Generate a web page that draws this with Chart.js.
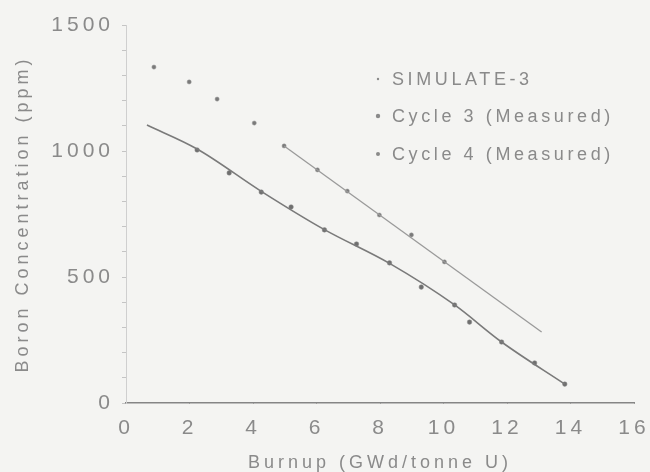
<!DOCTYPE html>
<html>
<head>
<meta charset="utf-8">
<script src="https://cdn.jsdelivr.net/npm/chart.js@4/dist/chart.umd.min.js"></script>
<style>
  html, body { margin: 0; padding: 0; background: #f4f4f2; }
  #wrap { width: 650px; height: 472px; }
</style>
</head>
<body>
<div id="wrap"><canvas id="c" width="650" height="472"></canvas></div>
<script>
// ---- data ----
const xTicks = [0, 2, 4, 6, 8, 10, 12, 14, 16];
const yTicks = [0, 500, 1000, 1500];
const legendLabels = ['SIMULATE-3', 'Cycle 3 (Measured)', 'Cycle 4 (Measured)'];

const simBurnupC3 = [0.66, 2.24, 4.26, 6.25, 8.3, 10.35, 11.83, 13.82];
const simBoronC3  = [1103, 1008, 840, 688, 554, 389, 242, 75];
const simBurnupC4 = [4.98, 13.09];
const simBoronC4  = [1020, 282];

const burnupC3 = [2.24, 3.25, 4.26, 5.2, 6.25, 7.26, 8.3, 9.3, 10.35, 10.82, 11.83, 12.87, 13.82];
const boronC3  = [1004, 913, 837, 778, 687, 631, 556, 460, 389, 321, 242, 159, 75];
const burnupC4 = [0.88, 1.99, 2.87, 4.04, 4.98, 6.03, 6.97, 7.98, 8.99, 10.03];
const boronC4  = [1333, 1274, 1206, 1111, 1020, 925, 841, 746, 667, 560];

const pts = (xs, ys) => xs.map((x, i) => ({ x: x, y: ys[i] }));

const TEXT = '#8a8a8a';
const FONT = "'Liberation Sans', Arial, Helvetica, sans-serif";
const SPACING = '4px';

const spacingPlugin = {
  id: 'spacing',
  beforeUpdate(c) { c.ctx.letterSpacing = SPACING; },
  beforeLayout(c) { c.ctx.letterSpacing = SPACING; },
  beforeDraw(c) {
    const ctx = c.ctx;
    ctx.save();
    ctx.fillStyle = '#f4f4f2';
    ctx.fillRect(0, 0, c.width, c.height);
    ctx.restore();
    ctx.letterSpacing = SPACING;
  }
};

const legendPlugin = {
  id: 'customLegend',
  afterDraw(c) {
    const ctx = c.ctx;
    ctx.save();
    ctx.letterSpacing = '3.6px';
    ctx.font = "18px " + FONT;
    ctx.textBaseline = 'middle';
    ctx.textAlign = 'left';
    const rows = [80, 117, 155];
    const radii = [1.2, 2.2, 2.0];
    legendLabels.forEach((t, i) => {
      ctx.beginPath();
      ctx.fillStyle = '#8a8a8a';
      ctx.arc(378, rows[i] - 1, radii[i], 0, Math.PI * 2);
      ctx.fill();
      ctx.fillStyle = TEXT;
      ctx.fillText(t, 392, rows[i]);
    });
    ctx.restore();
  }
};

new Chart(document.getElementById('c'), {
  type: 'scatter',
  data: {
    datasets: [
      { label: legendLabels[0], data: pts(simBurnupC3, simBoronC3), showLine: true,
        borderColor: '#7a7a7a', borderWidth: 1.6, pointRadius: 0, cubicInterpolationMode: 'monotone' },
      { label: legendLabels[0] + ' ', data: pts(simBurnupC4, simBoronC4), showLine: true,
        borderColor: '#9a9a9a', borderWidth: 1.3, pointRadius: 0, tension: 0 },
      { label: legendLabels[1], data: pts(burnupC3, boronC3), showLine: false,
        pointRadius: 2.3, pointBackgroundColor: '#6f6f6f', pointBorderColor: '#8a8a8a', pointBorderWidth: 0.5 },
      { label: legendLabels[2], data: pts(burnupC4, boronC4), showLine: false,
        pointRadius: 2.1, pointBackgroundColor: '#7a7a7a', pointBorderColor: '#9a9a9a', pointBorderWidth: 0.5 }
    ]
  },
  options: {
    responsive: false,
    animation: false,
    layout: { padding: { top: 25, right: 16, bottom: 0, left: 0 } },
    plugins: { legend: { display: false }, tooltip: { enabled: false } },
    scales: {
      x: {
        type: 'linear', min: 0, max: 16,
        afterFit(s) { s.height = 69; s.paddingRight = 0; s.paddingLeft = 0; },
        afterBuildTicks(s) { s.ticks = xTicks.map(v => ({ value: v })); },
        ticks: { color: TEXT, font: { family: FONT, size: 21 }, padding: 13, maxRotation: 0, autoSkip: false },
        grid: { display: true, drawOnChartArea: false, tickLength: 0, color: '#888' },
        border: { display: true, color: '#858585', width: 1.6 },
        title: { display: true, text: 'Burnup (GWd/tonne U)', color: TEXT,
                 font: { family: FONT, size: 18, lineHeight: 1 }, padding: { top: 0, bottom: 0 } }
      },
      y: {
        type: 'linear', min: 0, max: 1500,
        afterFit(s) { s.width = 126; s.paddingTop = 0; s.paddingBottom = 0; },
        ticks: { stepSize: 100, autoSkip: false, color: TEXT, font: { family: FONT, size: 21 }, padding: 8,
                 callback: v => (yTicks.includes(v) ? String(v) : '') },
        grid: { display: true, drawOnChartArea: false, tickLength: 4, color: '#c4c4c4' },
        border: { display: true, color: '#cfcfcf', width: 1, dash: [2, 3] },
        title: { display: true, text: 'Boron Concentration (ppm)', color: TEXT,
                 font: { family: FONT, size: 18, lineHeight: 1.2 }, padding: { top: 12, bottom: 0 } }
      }
    }
  },
  plugins: [spacingPlugin, legendPlugin]
});
</script>
</body>
</html>
